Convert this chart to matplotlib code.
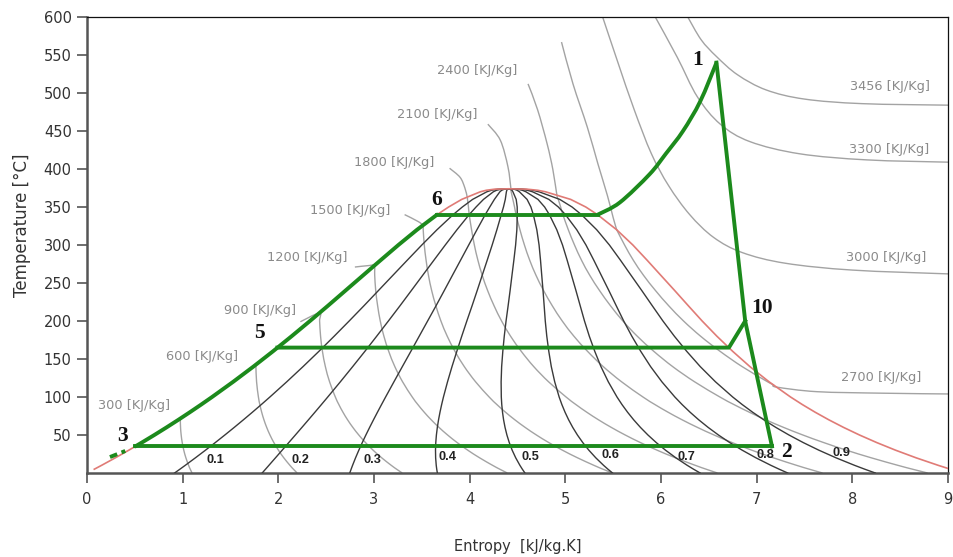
import numpy as np
import matplotlib
matplotlib.use("Agg")
import matplotlib.pyplot as plt
from matplotlib.path import Path
from matplotlib.patches import PathPatch

# ---------------- data ----------------
# saturated water / steam table
T_sat = [0.01, 5, 10, 20, 30, 40, 50, 60, 70, 80, 90, 100, 120, 140, 160, 180, 200,
         220, 240, 260, 280, 300, 320, 340, 350, 360, 370, 372, 373.5, 373.95]
s_liq = [0.0, 0.0763, 0.1511, 0.2965, 0.4368, 0.5724, 0.7038, 0.8313, 0.9551, 1.0756,
         1.1929, 1.3072, 1.5279, 1.7393, 1.9426, 2.1392, 2.3305, 2.5178, 2.7015, 2.8852,
         3.0692, 3.2548, 3.4491, 3.6601, 3.7800, 3.9167, 4.1108, 4.173, 4.263, 4.4070]
s_vap = [9.1556, 9.0249, 8.8999, 8.6660, 8.4520, 8.2557, 8.0748, 7.9082, 7.7540, 7.6111,
         7.4781, 7.3542, 7.1296, 6.9293, 6.7502, 6.5841, 6.4302, 6.2861, 6.1437, 5.9990,
         5.8547, 5.7059, 5.5372, 5.3356, 5.2136, 5.0557, 4.7936, 4.712, 4.596, 4.4070]
h_liq = [0.0, 21.02, 42.02, 83.92, 125.74, 167.53, 209.34, 251.18, 293.07, 335.02,
         377.04, 419.17, 503.81, 589.16, 675.47, 763.05, 852.26, 943.55, 1037.7, 1134.8,
         1236.7, 1344.8, 1461.3, 1594.5, 1670.9, 1761.7, 1890.7, 1931.0, 1990.0, 2084.3]
h_vap = [2500.9, 2510.1, 2519.2, 2537.4, 2555.6, 2573.5, 2591.3, 2608.8, 2626.1, 2643.0,
         2659.6, 2675.6, 2706.0, 2733.5, 2757.0, 2777.2, 2792.0, 2801.1, 2803.0, 2796.6,
         2779.9, 2749.6, 2700.1, 2621.3, 2563.6, 2481.8, 2332.7, 2280.0, 2205.0, 2084.3]

qualities = [0.1, 0.2, 0.3, 0.4, 0.5, 0.6, 0.7, 0.8, 0.9]

h_values = [300, 600, 900, 1200, 1500, 1800, 2100, 2400, 2700, 3000, 3300, 3456]
# parts of the constant-enthalpy lines outside the dome (s, T)
h_upper = {
    300: [], 600: [],
    900: [(2.23, 199)],
    1200: [(2.80, 271), (2.95, 273)],
    1500: [(3.32, 340), (3.46, 331)],
    1800: [(3.79, 401), (3.90, 389), (3.95, 375)],
    2100: [(4.19, 459), (4.32, 438), (4.40, 403)],
    2400: [(4.61, 512), (4.71, 478), (4.81, 433), (4.87, 399)],
    2700: [(4.96, 567), (5.08, 512), (5.23, 455), (5.34, 407), (5.44, 365), (5.50, 336)],
    3000: [(5.39, 600), (5.55, 540), (5.72, 478), (5.90, 420), (6.08, 378), (6.30, 340),
           (6.55, 310), (6.85, 290), (7.30, 276), (8.00, 267), (9.0, 262)],
    3300: [(5.94, 600), (6.17, 547), (6.38, 495), (6.62, 459), (6.93, 436), (7.45, 420),
           (8.15, 412), (9.0, 409)],
    3456: [(6.28, 600), (6.42, 570), (6.58, 548), (6.80, 524), (7.10, 504), (7.50, 492),
           (8.10, 486), (9.0, 484)],
}
h_lower = {2700: [(7.21, 113), (7.63, 107), (8.32, 105), (9.0, 104)]}

# cycle states (s [kJ/kg.K], T [C])
s1, T1 = 6.58, 540
s2, T2 = 7.16, 35
s3, T3 = 0.505, 35
s5, T5 = 1.99, 165
s6, T6 = 3.66, 340
s10, T10 = 6.88, 200
s_g165 = 6.71
s_g340 = 5.34
superheat_s = [5.34, 5.57, 5.88, 6.05, 6.23, 6.41, 6.58]
superheat_T = [340, 356, 393, 420, 450, 489, 540]
pump_s = [0.24, 0.40]
pump_T = [21, 29]

xticks = list(range(0, 10))
yticks = list(range(50, 601, 50))

# ---------------- helpers ----------------
Ts = np.array(T_sat); sl = np.array(s_liq); sv = np.array(s_vap)
hl = np.array(h_liq); hv = np.array(h_vap)


def wet_part(h):
    """Lever rule on the saturation table: list of (s,T) points inside the dome."""
    pts = []
    n = len(Ts)
    inside = [(hl[i] <= h <= hv[i]) and hl[i] < hv[i] for i in range(n)]
    for i in range(n):
        if inside[i]:
            x = (h - hl[i]) / (hv[i] - hl[i])
            pts.append((sl[i] + x * (sv[i] - sl[i]), Ts[i]))
        if i < n - 1 and inside[i] != inside[i + 1]:
            if (hl[i] - h) * (hl[i + 1] - h) <= 0 and hl[i] != hl[i + 1]:
                t = (h - hl[i]) / (hl[i + 1] - hl[i])
                pc = (sl[i] + t * (sl[i + 1] - sl[i]), Ts[i] + t * (Ts[i + 1] - Ts[i]))
            else:
                t = (h - hv[i]) / (hv[i + 1] - hv[i])
                pc = (sv[i] + t * (sv[i + 1] - sv[i]), Ts[i] + t * (Ts[i + 1] - Ts[i]))
            pts.append(pc)
    return pts


def smooth_path(points):
    """Bezier path passing through the given points (Catmull-Rom tangents)."""
    P = np.asarray(points, dtype=float)
    if len(P) < 3:
        return Path(P)
    verts = [P[0]]
    codes = [Path.MOVETO]
    n = len(P)
    for i in range(n - 1):
        p0 = P[i - 1] if i > 0 else P[i]
        p1 = P[i]
        p2 = P[i + 1]
        p3 = P[i + 2] if i + 2 < n else P[i + 1]
        c1 = p1 + (p2 - p0) / 6.0
        c2 = p2 - (p3 - p1) / 6.0
        verts += [c1, c2, p2]
        codes += [Path.CURVE4] * 3
    return Path(np.array(verts), codes)


# ---------------- figure ----------------
fig = plt.figure(figsize=(9.54, 5.57), dpi=100)
ax = fig.add_axes([87 / 954, 84 / 557, 861 / 954, 456 / 557])
ax.set_xlim(0, 9)
ax.set_ylim(0, 600)

gray = "#a3a3a3"
qcol = "#3a3a3a"
red = "#e07b76"
green = "#1c8a1c"
lab_gray = "#8a8a8a"

# enthalpy lines
for h in h_values:
    wet = sorted(wet_part(h), key=lambda p: -p[1])
    line = list(h_upper.get(h, [])) + wet + list(h_lower.get(h, []))
    if len(line) >= 2:
        ax.add_patch(PathPatch(smooth_path(line), fill=False, edgecolor=gray, lw=1.0,
                               zorder=2))

# quality lines
for q in qualities:
    ax.plot(sl + q * (sv - sl), Ts, color=qcol, lw=1.0, zorder=3)

# saturation dome
dome_s = np.concatenate([sl[1:], sv[1:][::-1]])
dome_T = np.concatenate([Ts[1:], Ts[1:][::-1]])
ax.plot(dome_s, dome_T, color=red, lw=1.2, zorder=4)

# cycle
lw = 2.8
mask = (Ts > T3) & (Ts <= T6)
ax.plot(np.concatenate([[s3], sl[mask]]), np.concatenate([[T3], Ts[mask]]),
        color=green, lw=lw, zorder=5, solid_capstyle="round")
ax.plot([s6, s_g340], [T6, T6], color=green, lw=lw, zorder=5)
ax.add_patch(PathPatch(smooth_path(list(zip(superheat_s, superheat_T))), fill=False,
                       edgecolor=green, lw=lw, zorder=5))
ax.plot([s1, s10, s2], [T1, T10, T2], color=green, lw=lw, zorder=5)
ax.plot([s3, s2], [T3, T2], color=green, lw=lw, zorder=5)
ax.plot([s5, s_g165, s10], [T5, T5, T10], color=green, lw=lw, zorder=5)
ax.plot(pump_s, pump_T, color=green, lw=lw, zorder=5, ls=(0, (2, 1.2)))

# enthalpy labels
hlab_pos = {2400: (4.08, 530), 2100: (3.66, 472), 1800: (3.21, 409), 1500: (2.75, 346),
            1200: (2.30, 284), 900: (1.81, 214), 600: (1.20, 153), 300: (0.49, 89),
            3456: (8.39, 508), 3300: (8.38, 425), 3000: (8.35, 283), 2700: (8.30, 126)}
for h in h_values:
    x, y = hlab_pos[h]
    ax.text(x, y, f"{h} [KJ/Kg]", color=lab_gray, fontsize=9.3, family="DejaVu Sans",
            ha="center", va="center", zorder=6)

# quality labels
qlab_pos = [(1.34, 17), (2.23, 17), (2.98, 17), (3.77, 21), (4.63, 21), (5.47, 24),
            (6.27, 21), (7.09, 24), (7.89, 26)]
for q, (x, y) in zip(qualities, qlab_pos):
    ax.text(x, y, f"{q:.1f}", color="#222222", fontsize=9.2, fontweight="bold",
            family="Liberation Sans", ha="center", va="center", zorder=6)

# state labels
state_lab = [("1", 6.38, 543), ("6", 3.65, 359), ("5", 1.80, 184), ("10", 7.06, 217),
             ("3", 0.37, 49), ("2", 7.31, 28)]
for t, x, y in state_lab:
    ax.text(x, y, t, fontsize=15.5, fontweight="bold", family="Liberation Serif",
            color="#111111", ha="center", va="center", zorder=7)

# axes styling
ax.set_xticks(xticks)
ax.set_yticks(yticks)
ax.tick_params(axis="both", direction="out", length=7, width=1.2, color="#555555",
               labelsize=10.5, labelcolor="#333333", pad=4)
for lbl in ax.get_xticklabels() + ax.get_yticklabels():
    lbl.set_family("DejaVu Sans")
ax.tick_params(axis="x", pad=7)
for side in ("left", "bottom"):
    ax.spines[side].set_color("#555555")
    ax.spines[side].set_linewidth(1.8)
for side in ("top", "right"):
    ax.spines[side].set_color("#111111")
    ax.spines[side].set_linewidth(0.9)

fig.text(518 / 954, 1 - 547 / 557, "Entropy  [kJ/kg.K]", ha="center", va="center",
         fontsize=10.5, family="DejaVu Sans", color="#333333")
fig.text(22 / 954, 1 - 225 / 557, "Temperature [°C]", ha="center", va="center",
         rotation=90, fontsize=12, family="DejaVu Sans", color="#333333")

fig.savefig("out.png", dpi=100)
